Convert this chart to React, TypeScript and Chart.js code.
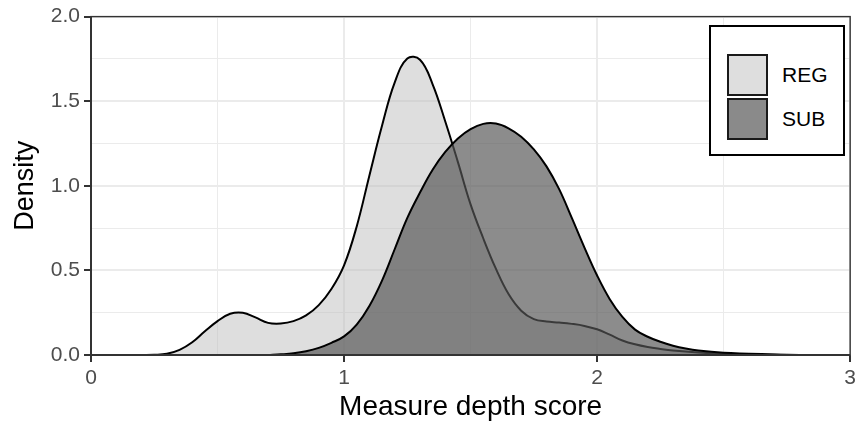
import React, { useEffect, useRef } from "react";
import { Chart, registerables } from "chart.js";

Chart.register(...registerables);

const seriesNames = ["REG", "SUB"];

const regX = [0.2, 0.25, 0.3, 0.35, 0.4, 0.45, 0.5, 0.55, 0.6, 0.65, 0.7, 0.75, 0.8, 0.85, 0.9, 0.95, 1.0, 1.05, 1.1, 1.15, 1.2, 1.25, 1.3, 1.35, 1.4, 1.45, 1.5, 1.55, 1.6, 1.65, 1.7, 1.75, 1.8, 1.85, 1.9, 1.95, 2.0, 2.05, 2.1, 2.15, 2.2, 2.25, 2.3, 2.4, 2.5, 2.6, 2.7, 2.75];
const regY = [0, 0.001, 0.007, 0.03, 0.075, 0.14, 0.2, 0.244, 0.25, 0.222, 0.19, 0.186, 0.2, 0.234, 0.295, 0.39, 0.53, 0.76, 1.06, 1.355, 1.61, 1.752, 1.745, 1.6, 1.38, 1.14, 0.89, 0.69, 0.51, 0.36, 0.262, 0.212, 0.198, 0.192, 0.184, 0.172, 0.152, 0.12, 0.086, 0.063, 0.047, 0.036, 0.027, 0.015, 0.007, 0.003, 0.001, 0];

const subX = [0.7, 0.75, 0.8, 0.85, 0.9, 0.95, 1.0, 1.05, 1.1, 1.15, 1.2, 1.25, 1.3, 1.35, 1.4, 1.45, 1.5, 1.55, 1.6, 1.65, 1.7, 1.75, 1.8, 1.85, 1.9, 1.95, 2.0, 2.05, 2.1, 2.15, 2.2, 2.25, 2.3, 2.35, 2.4, 2.5, 2.6, 2.7, 2.8];
const subY = [0, 0.004, 0.01, 0.022, 0.042, 0.072, 0.11, 0.18, 0.29, 0.44, 0.625, 0.81, 0.96, 1.095, 1.2, 1.28, 1.335, 1.366, 1.368, 1.34, 1.29, 1.215, 1.115, 0.98, 0.81, 0.635, 0.47, 0.33, 0.225, 0.15, 0.108, 0.078, 0.055, 0.038, 0.026, 0.013, 0.008, 0.003, 0];

const xTickLabels = ["0", "1", "2", "3"];
const yTickLabels = ["0.0", "0.5", "1.0", "1.5", "2.0"];

const regFill = "rgba(190,190,190,0.5)";
const subFill = "rgba(85,85,85,0.68)";
const FONT = "'Liberation Sans', Arial, sans-serif";

const isMultiple = (v: number, step: number) => Math.abs(v / step - Math.round(v / step)) < 1e-6;

const borderPlugin = {
  id: "panelBorder",
  afterDatasetsDraw(chart: any) {
    const { ctx, chartArea } = chart;
    const { left, right, top, bottom } = chartArea;
    ctx.save();
    ctx.strokeStyle = "#333333";
    ctx.lineWidth = 1.4;
    ctx.strokeRect(left, top, right - left, bottom - top);
    ctx.lineWidth = 2;
    ctx.beginPath();
    ctx.moveTo(left, top);
    ctx.lineTo(left, bottom);
    ctx.lineTo(right, bottom);
    ctx.stroke();
    ctx.restore();
  },
};

export default function App() {
  const ref = useRef<HTMLCanvasElement | null>(null);

  useEffect(() => {
    if (!ref.current) return;
    const toPts = (xs: number[], ys: number[]) => xs.map((x, i) => ({ x, y: ys[i] }));
    const gridColor = "#EBEBEB";
    const chart = new Chart(ref.current, {
      type: "line",
      data: {
        datasets: [
          {
            label: seriesNames[0],
            data: toPts(regX, regY),
            fill: "origin",
            backgroundColor: regFill,
            borderColor: "#000000",
            borderWidth: 2,
            pointRadius: 0,
            tension: 0.4,
            order: 1,
          },
          {
            label: seriesNames[1],
            data: toPts(subX, subY),
            fill: "origin",
            backgroundColor: subFill,
            borderColor: "#000000",
            borderWidth: 2,
            pointRadius: 0,
            tension: 0.4,
            order: 0,
          },
        ],
      },
      options: {
        animation: false,
        responsive: false,
        layout: { padding: { left: 0, top: 16, right: 8, bottom: 0 } },
        plugins: { legend: { display: false }, tooltip: { enabled: false } },
        scales: {
          x: {
            type: "linear",
            min: 0,
            max: 3,
            afterFit: (s: any) => { s.height = 66; },
            ticks: {
              stepSize: 0.5,
              autoSkip: false,
              maxRotation: 0,
              padding: 4,
              color: "#4D4D4D",
              font: { family: FONT, size: 21 },
              callback: (v: any) => (isMultiple(Number(v), 1) ? xTickLabels[Math.round(Number(v))] : ""),
            },
            grid: {
              color: gridColor,
              lineWidth: (c: any) => (isMultiple(c.tick?.value ?? 0, 1) ? 2 : 1),
              tickLength: 7,
              tickColor: (c: any) => (isMultiple(c.tick?.value ?? 0, 1) ? "#333333" : "rgba(0,0,0,0)"),
              tickWidth: 2,
            },
            border: { display: false },
            title: {
              display: true,
              text: "Measure depth score",
              color: "#000000",
              font: { family: FONT, size: 28, lineHeight: 1.0 },
              padding: { top: 0, bottom: 0 },
            },
          },
          y: {
            type: "linear",
            min: 0,
            max: 2,
            afterFit: (s: any) => { s.width = 91; },
            ticks: {
              stepSize: 0.25,
              autoSkip: false,
              padding: 4,
              color: "#4D4D4D",
              font: { family: FONT, size: 21 },
              callback: (v: any) => (isMultiple(Number(v), 0.5) ? yTickLabels[Math.round(Number(v) * 2)] : ""),
            },
            grid: {
              color: gridColor,
              lineWidth: (c: any) => (isMultiple(c.tick?.value ?? 0, 0.5) ? 2 : 1),
              tickLength: 7,
              tickColor: (c: any) => (isMultiple(c.tick?.value ?? 0, 0.5) ? "#333333" : "rgba(0,0,0,0)"),
              tickWidth: 2,
            },
            border: { display: false },
            title: {
              display: true,
              text: "Density",
              color: "#000000",
              font: { family: FONT, size: 27, lineHeight: 1.2 },
              padding: { top: 9, bottom: 0 },
            },
          },
        },
      },
      plugins: [borderPlugin],
    } as any);
    return () => chart.destroy();
  }, []);

  const swatch = (top: number, color: string): React.CSSProperties => ({
    position: "absolute",
    left: 16,
    top,
    width: 41,
    height: 42,
    boxSizing: "border-box",
    border: "2px solid #1a1a1a",
    background: color,
  });
  const label = (top: number): React.CSSProperties => ({
    position: "absolute",
    left: 71,
    top,
    height: 42,
    lineHeight: "42px",
    fontFamily: FONT,
    fontSize: 21,
    color: "#000000",
  });

  return (
    <div style={{ position: "absolute", left: 0, top: 0, width: 860, height: 421, background: "#ffffff" }}>
      <canvas ref={ref} width={860} height={421} style={{ display: "block" }} />
      <div
        style={{
          position: "absolute",
          left: 709,
          top: 25,
          width: 136,
          height: 131,
          boxSizing: "border-box",
          border: "2px solid #000000",
          background: "#ffffff",
        }}
      >
        <div style={swatch(27, "#DEDEDE")} />
        <div style={swatch(71, "#8A8A8A")} />
        <div style={label(27)}>{seriesNames[0]}</div>
        <div style={label(71)}>{seriesNames[1]}</div>
      </div>
    </div>
  );
}
